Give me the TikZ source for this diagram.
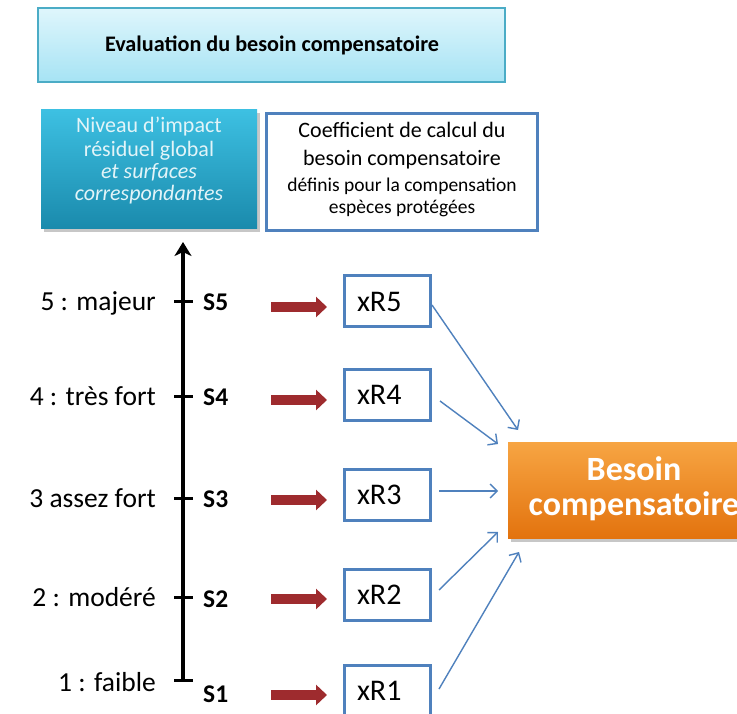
\documentclass[tikz,border=0pt]{standalone}
\usepackage{fontspec}
\setmainfont{Carlito}
\usetikzlibrary{arrows.meta}
\definecolor{tealtop}{HTML}{3DC0E2}
\definecolor{tealbot}{HTML}{1A8AAC}
\definecolor{cyantop}{HTML}{DFF6FC}
\definecolor{cyanbot}{HTML}{A6E3F4}
\definecolor{tealtext}{HTML}{E2F4F8}
\definecolor{cyanedge}{HTML}{4BACC6}
\definecolor{boxblue}{HTML}{4F81BD}
\definecolor{redarr}{HTML}{9E2B2E}
\definecolor{orgtop}{HTML}{F7A543}
\definecolor{orgbot}{HTML}{E3730E}
\tikzset{
  xrbox/.style={draw=boxblue, line width=3pt, text width=60pt, align=left, inner xsep=13pt, minimum height=51pt, inner ysep=0pt, font=\fontsize{30}{34}\selectfont},
  lvl/.style={anchor=base east, inner sep=0pt, font=\fontsize{27.5}{32}\selectfont},
  slab/.style={anchor=base west, inner sep=0pt, font=\fontsize{25.5}{30}\selectfont\bfseries},
  nivline/.style={anchor=base, inner sep=0pt, text=tealtext, font=\fontsize{22}{26}\selectfont},
  coefline/.style={anchor=base, inner sep=0pt, font=\fontsize{22}{26}\selectfont},
  coefsmall/.style={anchor=base, inner sep=0pt, font=\fontsize{19.5}{23}\selectfont},
  besline/.style={anchor=base, inner sep=0pt, text=white, font=\fontsize{34}{38}\selectfont\bfseries},
  redarrow/.style={redarr, line width=10pt, -{Triangle[length=11pt,width=20pt]}},
  bluearrow/.style={boxblue, line width=1.4pt, -{Straight Barb[length=7pt,width=14pt]}},
  tick/.style={line width=3pt}
}
\begin{document}
\begin{tikzpicture}[x=1pt,y=-1pt]
\clip (0,0) rectangle (737,714);
\fill[white] (0,0) rectangle (737,714);
% top title
\node[draw=cyanedge, line width=1.5pt, top color=cyantop, bottom color=cyanbot, minimum width=467pt, minimum height=74pt, inner sep=0pt] (title) at (271.5,45) {};
\node[anchor=base, inner sep=0pt, font=\fontsize{22.2}{26}\selectfont\bfseries] (titletext) at (272,52) {Evaluation du besoin compensatoire};
% teal box with shadow
\fill[black!22] (44,113) rectangle (260,232);
\node[top color=tealtop, bottom color=tealbot, minimum width=216pt, minimum height=119pt, inner sep=0pt] (niveau) at (149,169.5) {};
\node[nivline] (n1) at (149,133) {Niveau d'impact};
\node[nivline] (n2) at (149,157) {résiduel global};
\node[nivline] (n3) at (149,179) {\itshape et surfaces};
\node[nivline] (n4) at (149,201) {\itshape correspondantes};
% coefficient box
\node[draw=boxblue, line width=3pt, minimum width=271pt, minimum height=117pt, inner sep=0pt] (coef) at (402,172) {};
\node[coefline] (c1) at (402,138) {Coefficient de calcul du};
\node[coefline] (c2) at (402,166) {besoin compensatoire};
\node[coefsmall] (c3) at (402,192) {définis pour la compensation};
\node[coefsmall] (c4) at (402,214) {espèces protégées};
% axis
\coordinate (axbot) at (183,681);
\coordinate (axtop) at (183,242);
\draw[line width=3.5pt, -{Stealth[length=14pt,width=17pt,inset=4pt]}] (axbot) -- (axtop);
% ticks
\foreach \i/\y in {5/302,4/396,3/498,2/597,1/680}{
  \coordinate (tl\i) at (174,\y);
  \coordinate (tr\i) at (193,\y);
  \draw[tick] (tl\i) -- (tr\i);
}
\node[lvl] (lab5) at (156,311) {5 : majeur};
\node[lvl] (lab4) at (156,405) {4 : très fort};
\node[lvl] (lab3) at (156,507) {3 assez fort};
\node[lvl] (lab2) at (156,606) {2 : modéré};
\node[lvl] (lab1) at (156,691) {1 : faible};
\node[slab] (s5) at (203,311) {S5};
\node[slab] (s4) at (203,405) {S4};
\node[slab] (s3) at (203,507) {S3};
\node[slab] (s2) at (203,607) {S2};
\node[slab] (s1) at (203,702) {S1};
% xR boxes
\node[xrbox] (x5) at (387,301.5) {xR5};
\node[xrbox] (x4) at (387,394.5) {xR4};
\node[xrbox] (x3) at (387,494.5) {xR3};
\node[xrbox] (x2) at (387,594.5) {xR2};
\node[xrbox] (x1) at (387,690.5) {xR1};
% red arrows
\foreach \i/\y in {5/307,4/400,3/500,2/599,1/695}{
  \coordinate (ra\i) at (271,\y);
  \coordinate (rb\i) at (327,\y);
  \draw[redarrow] (ra\i) -- (rb\i);
}
% orange result box
\fill[black!22] (511,445) rectangle (765,542);
\node[top color=orgtop, bottom color=orgbot, minimum width=252pt, minimum height=96pt, inner sep=0pt] (besoin) at (634,490) {};
\node[besline] (be1) at (634,480) {Besoin};
\node[besline] (be2) at (634,515) {compensatoire};
% blue arrows
\coordinate (b5a) at (432,305); \coordinate (b5b) at (518,430);
\coordinate (b4a) at (440,401); \coordinate (b4b) at (498,444);
\coordinate (b3a) at (439,491); \coordinate (b3b) at (498,491);
\coordinate (b2a) at (439,590); \coordinate (b2b) at (498,532);
\coordinate (b1a) at (439,689); \coordinate (b1b) at (519,552);
\foreach \i in {5,4,3,2,1}{\draw[bluearrow] (b\i a) -- (b\i b);}
\end{tikzpicture}
\end{document}
